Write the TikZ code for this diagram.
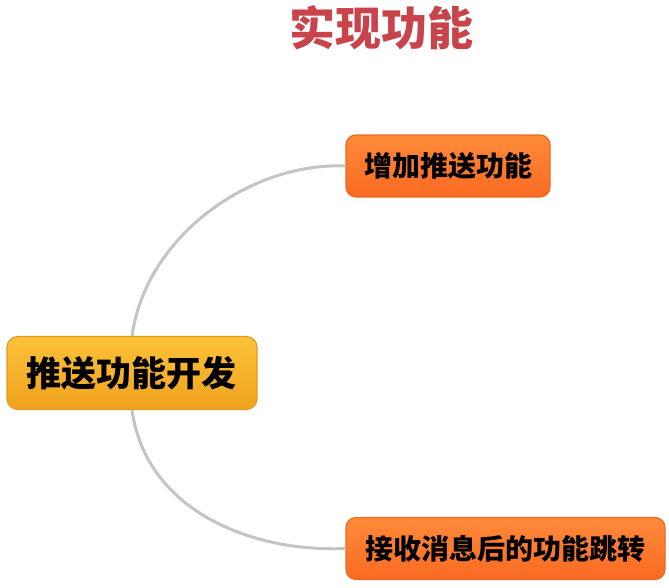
\documentclass[tikz,border=0pt]{standalone}
\usepackage{fontspec}
\newfontfamily\cjk{Noto Sans CJK SC}
\usetikzlibrary{shapes,backgrounds}
\definecolor{titlered}{HTML}{C9434A}
\definecolor{maintop}{HTML}{FBC23A}
\definecolor{mainbot}{HTML}{F0A21E}
\definecolor{mainedge}{HTML}{E39A1C}
\definecolor{subtop}{HTML}{FF8A3A}
\definecolor{subbot}{HTML}{F96A22}
\definecolor{subedge}{HTML}{EC6A22}
\definecolor{linkgray}{HTML}{C4C4C4}

\begin{document}
\begin{tikzpicture}[x=1pt,y=-1pt,line width=3pt]
        \tikzstyle{every node}=[font=\cjk\bfseries, text=black]
        \tikzstyle{topic}=[rounded corners=11pt, line width=1.2pt, draw=mainedge,
                           top color=maintop, bottom color=mainbot,
                           minimum width=250pt, minimum height=73pt, font=\cjk\bfseries\fontsize{35}{38}\selectfont]
        \tikzstyle{subtopic}=[rounded corners=10pt, line width=1.2pt, draw=subedge,
                              top color=subtop, bottom color=subbot,
                              minimum height=62pt, font=\cjk\bfseries\fontsize{28}{30}\selectfont]
        \tikzstyle{link}=[draw=linkgray, line width=3pt]
        \useasboundingbox[fill=white] (0,0) rectangle (669,587);

        \node[text=titlered, font=\cjk\bfseries\fontsize{46}{48}\selectfont] (title) at (381,28) {实现功能};
        \node[topic]                        (dev)    at (132,373)   {推送功能开发};
        \node[subtopic, minimum width=204pt] (push)  at (448,166)   {增加推送功能};
        \node[subtopic, minimum width=319pt] (jump)  at (505.5,548.5) {接收消息后的功能跳转};

        \path[link] (dev.north) .. controls +(14,-100) and +(-95,-4) .. (push.west);
        \path[link] (dev.south) .. controls +(14,100) and +(-95,4) .. (jump.west);
\end{tikzpicture}
\end{document}
